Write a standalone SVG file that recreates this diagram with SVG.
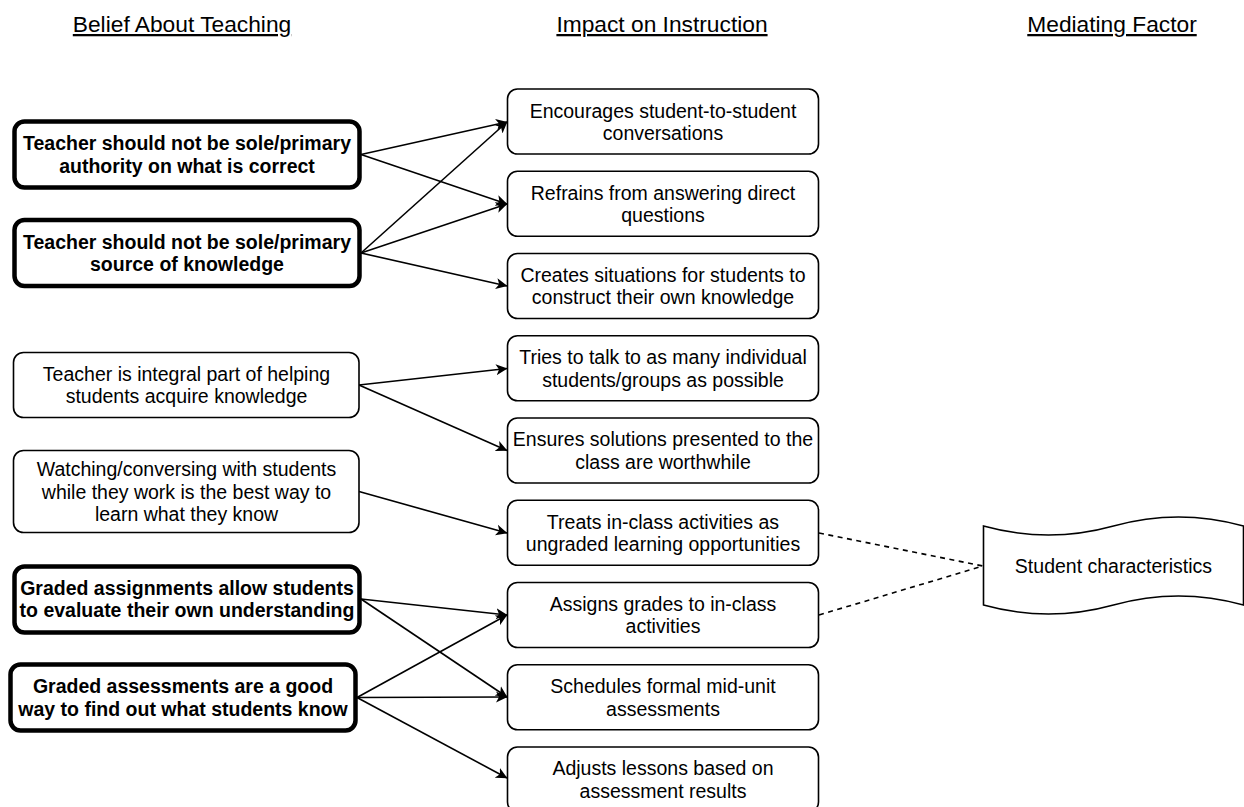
<svg xmlns="http://www.w3.org/2000/svg" width="1244" height="807" viewBox="0 0 1244 807">
  <style>
    text { font-family: "Liberation Sans", Arial, Helvetica, sans-serif; fill: #000; }
    .hdr { font-size: 22.75px; text-anchor: middle; text-decoration: underline; }
    .lbl { font-size: 19.5px; text-anchor: middle; }
    .bold { font-weight: bold; }
    .box { fill: #fff; stroke: #000; stroke-width: 1.6; }
    .boxb { fill: #fff; stroke: #000; stroke-width: 4.5; }
    .edge { fill: none; stroke: #000; stroke-width: 1.6; marker-end: url(#arrow); }
    .dash { fill: none; stroke: #000; stroke-width: 1.6; stroke-dasharray: 5 4.5; }
  </style>
  <defs>
    <marker id="arrow" viewBox="0 0 12 12" refX="11" refY="6" markerWidth="12" markerHeight="12" markerUnits="userSpaceOnUse" orient="auto">
      <path d="M0,0.5 L11.5,6 L0,11.5 L3,6 Z" fill="#000"/>
    </marker>
  </defs>

  <rect width="1244" height="807" fill="#fff"/>

  <!-- column headings -->
  <g id="headings">
    <text class="hdr" x="182" y="32">Belief About Teaching</text>
    <text class="hdr" x="662" y="32">Impact on Instruction</text>
    <text class="hdr" x="1112" y="32">Mediating Factor</text>
  </g>

  <!-- connectors -->
  <g id="connectors">
    <path class="edge" d="M361,154.5 L507,122"/>
    <path class="edge" d="M361,154.5 L507,204"/>
    <path class="edge" d="M361,253 L507,122"/>
    <path class="edge" d="M361,253 L507,204"/>
    <path class="edge" d="M361,253 L507,286"/>
    <path class="edge" d="M359,385 L507,368.5"/>
    <path class="edge" d="M359,385 L507,450.5"/>
    <path class="edge" d="M359,491.5 L507,533"/>
    <path class="edge" d="M361,599 L507,615"/>
    <path class="edge" d="M361,599 L507,697"/>
    <path class="edge" d="M357,697.5 L507,615"/>
    <path class="edge" d="M357,697.5 L507,697"/>
    <path class="edge" d="M357,697.5 L507,778"/>
    <path class="dash" d="M819,533 L983,566"/>
    <path class="dash" d="M819,615 L983,566"/>
  </g>

  <!-- beliefs -->
  <g id="belief-authority">
    <rect class="boxb" x="14.5" y="121.5" width="345" height="66" rx="10"/>
    <text class="lbl bold" x="187" y="150">Teacher should not be sole/primary</text>
    <text class="lbl bold" x="187" y="172.5">authority on what is correct</text>
  </g>
  <g id="belief-source">
    <rect class="boxb" x="14.5" y="220" width="345" height="66" rx="10"/>
    <text class="lbl bold" x="187" y="248.5">Teacher should not be sole/primary</text>
    <text class="lbl bold" x="187" y="271">source of knowledge</text>
  </g>
  <g id="belief-integral">
    <rect class="box" x="13.5" y="352.5" width="345.5" height="65" rx="10"/>
    <text class="lbl" x="186.5" y="380.5">Teacher is integral part of helping</text>
    <text class="lbl" x="186.5" y="403">students acquire knowledge</text>
  </g>
  <g id="belief-watching">
    <rect class="box" x="13.5" y="450.5" width="345.5" height="82" rx="10"/>
    <text class="lbl" x="186.5" y="476">Watching/conversing with students</text>
    <text class="lbl" x="186.5" y="498.5">while they work is the best way to</text>
    <text class="lbl" x="186.5" y="521">learn what they know</text>
  </g>
  <g id="belief-assignments">
    <rect class="boxb" x="14.5" y="566.5" width="345" height="66" rx="10"/>
    <text class="lbl bold" x="187" y="594.5">Graded assignments allow students</text>
    <text class="lbl bold" x="187" y="617">to evaluate their own understanding</text>
  </g>
  <g id="belief-assessments">
    <rect class="boxb" x="10.5" y="664.5" width="345" height="66" rx="10"/>
    <text class="lbl bold" x="183" y="693">Graded assessments are a good</text>
    <text class="lbl bold" x="183" y="715.5">way to find out what students know</text>
  </g>

  <!-- impacts -->
  <g id="impact-conversations">
    <rect class="box" x="507.5" y="89" width="311" height="65" rx="10"/>
    <text class="lbl" x="663" y="117.5">Encourages student-to-student</text>
    <text class="lbl" x="663" y="140">conversations</text>
  </g>
  <g id="impact-refrains">
    <rect class="box" x="507.5" y="171.25" width="311" height="65" rx="10"/>
    <text class="lbl" x="663" y="199.5">Refrains from answering direct</text>
    <text class="lbl" x="663" y="222">questions</text>
  </g>
  <g id="impact-situations">
    <rect class="box" x="507.5" y="253.5" width="311" height="65" rx="10"/>
    <text class="lbl" x="663" y="281.5">Creates situations for students to</text>
    <text class="lbl" x="663" y="304">construct their own knowledge</text>
  </g>
  <g id="impact-talk">
    <rect class="box" x="507.5" y="335.75" width="311" height="65" rx="10"/>
    <text class="lbl" x="663" y="364">Tries to talk to as many individual</text>
    <text class="lbl" x="663" y="386.5">students/groups as possible</text>
  </g>
  <g id="impact-solutions">
    <rect class="box" x="507.5" y="418" width="311" height="65" rx="10"/>
    <text class="lbl" x="663" y="446">Ensures solutions presented to the</text>
    <text class="lbl" x="663" y="468.5">class are worthwhile</text>
  </g>
  <g id="impact-ungraded">
    <rect class="box" x="507.5" y="500.25" width="311" height="65" rx="10"/>
    <text class="lbl" x="663" y="528.5">Treats in-class activities as</text>
    <text class="lbl" x="663" y="551">ungraded learning opportunities</text>
  </g>
  <g id="impact-grades">
    <rect class="box" x="507.5" y="582.5" width="311" height="65" rx="10"/>
    <text class="lbl" x="663" y="610.5">Assigns grades to in-class</text>
    <text class="lbl" x="663" y="633">activities</text>
  </g>
  <g id="impact-schedules">
    <rect class="box" x="507.5" y="664.75" width="311" height="65" rx="10"/>
    <text class="lbl" x="663" y="693">Schedules formal mid-unit</text>
    <text class="lbl" x="663" y="715.5">assessments</text>
  </g>
  <g id="impact-adjusts">
    <rect class="box" x="507.5" y="747" width="311" height="65" rx="10"/>
    <text class="lbl" x="663" y="775">Adjusts lessons based on</text>
    <text class="lbl" x="663" y="797.5">assessment results</text>
  </g>

  <!-- mediating factor (tape shape) -->
  <g id="factor-students">
    <path class="box" d="M983.5,526 Q1048.5,544 1113.5,526 Q1178.5,508 1243.5,526 L1243.5,605 Q1178.5,587 1113.5,605 Q1048.5,623 983.5,605 Z"/>
    <text class="lbl" x="1113.5" y="573">Student characteristics</text>
  </g>
</svg>
